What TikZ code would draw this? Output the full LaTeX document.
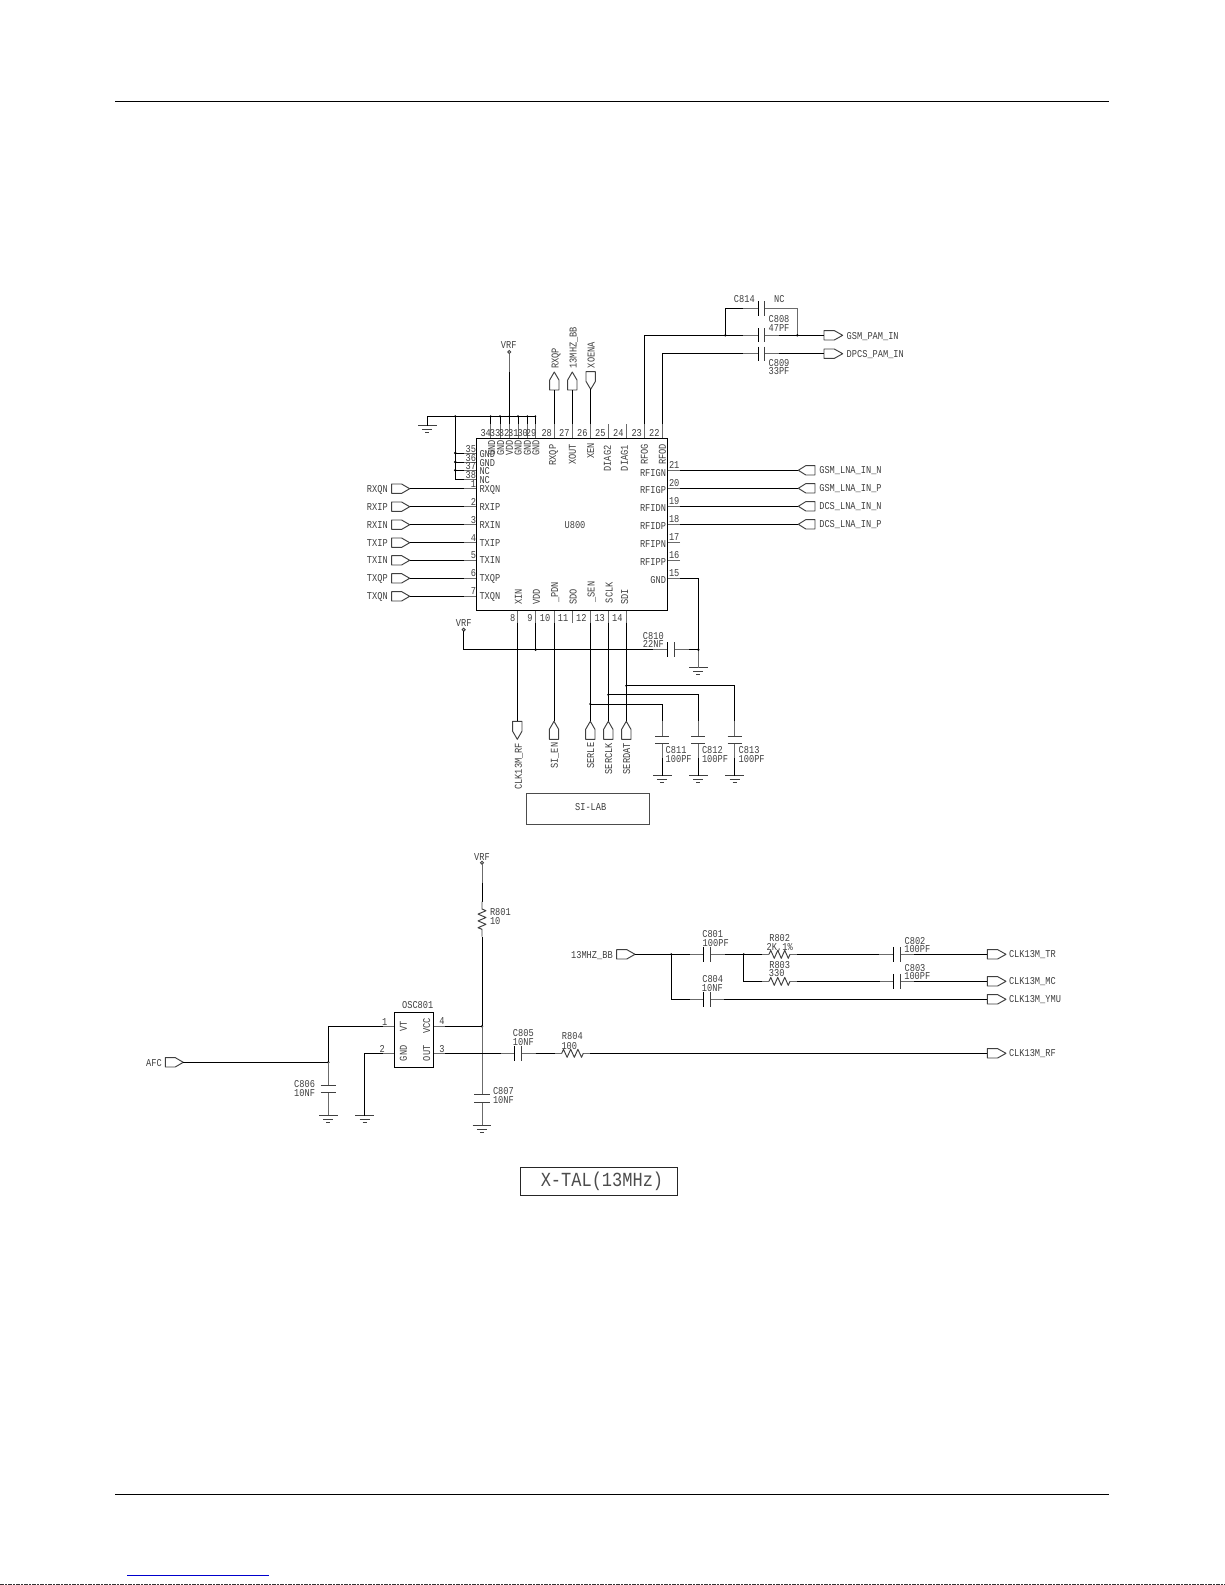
\documentclass[tikz,border=0pt]{standalone}
\usepackage{fontspec}
\setmainfont{Liberation Mono}
\newfontfamily\schfont[FakeStretch=0.825]{Liberation Mono}
\newfontfamily\bigfont[FakeStretch=0.85]{Liberation Mono}
\usetikzlibrary{calc}
\tikzset{
  wire/.style={line width=.95pt,black},
  lead/.style={line width=.95pt,black!58},
  frame/.style={line width=.95pt,black!75},
  lbl/.style={inner sep=0pt,outer sep=0pt,text height=7pt,text depth=0pt,text=black!75,font=\schfont\fontsize{10.5}{10.5}\selectfont},
}
\newcounter{tc}
\newcommand\T[4][]{\stepcounter{tc}\node[lbl,#1] (t\arabic{tc}) at (#2,#3) {#4};}
% horizontal off-page port: base x, tip x, y
\newcommand\PortH[4]{%
  \coordinate (#1-b) at (#2,#4);\coordinate (#1-t) at (#3,#4);
  \pgfmathsetmacro\sx{#2+.55*(#3-#2)}%
  \draw[frame,line join=round] (#2,#4-4.7) -- (\sx,#4-4.7) -- (#3,#4) -- (\sx,#4+4.7) -- (#2,#4+4.7) -- cycle;}
% vertical off-page port: x, base y, tip y
\newcommand\PortV[4]{%
  \coordinate (#1-b) at (#2,#3);\coordinate (#1-t) at (#2,#4);
  \pgfmathsetmacro\sy{#3+.55*(#4-#3)}%
  \draw[frame,line join=round] (#2-4.7,#3) -- (#2-4.7,\sy) -- (#2,#4) -- (#2+4.7,\sy) -- (#2+4.7,#3) -- cycle;}
% ground symbol
\newcommand\Gnd[3]{%
  \coordinate (#1) at (#2,#3);
  \draw[frame] ($(#1)+(-9.3,0)$) -- ($(#1)+(9.3,0)$);
  \draw[frame] ($(#1)+(-5,3.3)$) -- ($(#1)+(5,3.3)$);
  \draw[frame] ($(#1)+(-2,6.8)$) -- ($(#1)+(2,6.8)$);}
% horizontal-run capacitor: name, plate x1, plate x2, y, half, lead L, lead R
\newcommand\CapH[7]{%
  \coordinate (#1-l) at (#2-#6,#4);\coordinate (#1-r) at (#3+#7,#4);
  \draw[lead] (#1-l) -- (#2,#4);\draw[lead] (#3,#4) -- (#1-r);
  \draw[wire] (#2,#4-#5) -- (#2,#4+#5);\draw[frame] (#3,#4-#5) -- (#3,#4+#5);}
% vertical-run capacitor: name, x, plate y1, plate y2, half, lead T, lead B
\newcommand\CapV[7]{%
  \coordinate (#1-t) at (#2,#3-#6);\coordinate (#1-b) at (#2,#4+#7);
  \draw[lead] (#1-t) -- (#2,#3);\draw[lead] (#2,#4) -- (#1-b);
  \draw[frame] (#2-#5,#3) -- (#2+#5,#3);\draw[frame] (#2-#5,#4) -- (#2+#5,#4);}
% horizontal resistor: name, zig x1, zig x2, y
\newcommand\ResH[4]{%
  \coordinate (#1-l) at (#2-7,#4);\coordinate (#1-r) at (#3+7,#4);
  \pgfmathsetmacro\st{(#3-#2)/6}%
  \draw[lead] (#1-l) -- (#2,#4);\draw[lead] (#3,#4) -- (#1-r);
  \draw[frame,line join=round] (#2,#4) -- ++(\st/2,-4) -- ++(\st,8) -- ++(\st,-8) -- ++(\st,8) -- ++(\st,-8) -- ++(\st,8) -- (#3,#4);}
\begin{document}
\begin{tikzpicture}[x=1pt,y=-1pt]
\useasboundingbox (0,0) rectangle (1225,1585);
\fill[white] (0,0) rectangle (1225,1585);
% page furniture
\coordinate (topL) at (115,101.3);\coordinate (topR) at (1109,101.3);
\draw[line width=1.1pt] (topL) -- (topR);
\coordinate (botL) at (115,1494.3);\coordinate (botR) at (1109,1494.3);
\draw[line width=1.1pt] (botL) -- (botR);
\coordinate (linkL) at (127,1575.3);\coordinate (linkR) at (269,1575.3);
\draw[line width=1pt,color={rgb,255:red,0;green,0;blue,205}] (linkL) -- (linkR);
\coordinate (edgeL) at (0,1584.4);\coordinate (edgeR) at (1225,1584.4);
\draw[line width=1pt,dash pattern=on 4pt off 1pt on 2pt off 1pt,black!80] (edgeL) -- (edgeR);

% ===== U800 =====
\node[draw=black,line width=.95pt,inner sep=0pt,minimum width=191pt,minimum height=172pt] (u800) at (572.2,524.3) {};
\T{575}{525}{U800}

% left pins with ports
\foreach \n/\s/\y in {1/RXQN/488.7,2/RXIP/506.7,3/RXIN/524.7,4/TXIP/542.7,5/TXIN/560.3,6/TXQP/578.3,7/TXQN/596.3}{
  \coordinate (p\n) at (464,\y);
  \PortH{P\n}{391.7}{409.7}{\y}
  \draw[wire] (P\n-t) -- (p\n);
  \draw[lead] (p\n) -- (p\n -| u800.west);
  \T[anchor=east]{387.7}{\y}{\s}
  \T[anchor=west]{479.5}{\y}{\s}
  \T[anchor=east]{476}{\y-5}{\n}
}
% left pins tied to ground
\coordinate (busL) at (427.3,416.3);\coordinate (busR) at (535.3,416.3);
\coordinate (tie) at (455.3,416.3);
\draw[wire] (busL) -- (busR);
\Gnd{gTop}{427.3}{425.7}
\draw[wire] (busL) -- (gTop);
\foreach \n/\s/\y in {35/GND/453,36/GND/462,37/NC/470.3,38/NC/479.3}{
  \coordinate (p\n) at (464,\y);
  \draw[wire] (p\n -| tie) -- (p\n);
  \draw[lead] (p\n) -- (p\n -| u800.west);
  \T[anchor=west]{479.5}{\y+.7}{\s}
  \T[anchor=east]{476}{\y-4.5}{\n}
}
\draw[wire] (tie) -- (p38 -| tie);
\foreach \n in {35,36,37}{\fill (p\n -| tie) circle (1.4);}
\fill (tie) circle (1.2);

% top pins
\foreach \n/\x/\nx in {34/490.7/485.7,33/500/495,32/509.3/504,31/518/513.3,30/527.3/522.7,29/535.3/531,28/554.3/546.7,27/572.3/564.3,26/590.7/582.3,25/608.3/600.3,24/626/618.3,23/644.3/636.7,22/662.3/654.3}{
  \coordinate (p\n) at (\x,424);
  \draw[lead] (p\n) -- (p\n |- u800.north);
  \T{\nx}{433}{\n}
}
\foreach \n in {34,33,32,31,30,29}{\draw[wire] (p\n |- busL) -- (p\n);\fill (p\n |- busL) circle (1.1);}
\foreach \x/\s in {491.7/GND,500.7/GND,509.3/VDD,518/GND,527.3/GND,535.8/GND}{\T[rotate=90]{\x}{447.7}{\s}}
\T[rotate=90]{552.7}{455}{RXQP}
\T[rotate=90]{572.3}{454.5}{XOUT}
\T[rotate=90]{590.7}{451}{XEN}
\T[rotate=90]{607.3}{458.5}{DIAG2}
\T[rotate=90]{624.3}{458}{DIAG1}
\T[rotate=90]{644.3}{454.5}{RFOG}
\T[rotate=90]{662.3}{454.5}{RFOD}

% top ports
\PortV{P28}{554.3}{390}{372}
\PortV{P27}{572.3}{390}{372}
\PortV{P26}{590.7}{371.7}{389.3}
\draw[wire] (P28-b) -- (p28);
\draw[wire] (P27-b) -- (p27);
\draw[wire] (P26-t) -- (p26);
\T[rotate=90]{555}{358.3}{RXQP}
\T[rotate=90]{573}{347.7}{13MHZ\_BB}
\T[rotate=90]{591}{355}{XOENA}
% VRF top
\coordinate (vrf1) at (509.3,352);\coordinate (vrf1a) at (509.3,372);
\draw[frame] (vrf1) circle (1.5);
\draw[lead] (vrf1) ++(0,1.5) -- (vrf1a);
\draw[wire] (vrf1a) -- (p32);
\T{508.7}{345}{VRF}

% RF output caps
\CapH{C814}{758}{764.7}{308.3}{7.2}{15}{15}
\CapH{C808}{758}{764.7}{335.3}{7}{15}{14.3}
\CapH{C809}{758}{764.7}{353.7}{7.2}{15}{14.3}
\coordinate (j1) at (725.3,335.3);\coordinate (j2) at (797.3,335.3);
\PortH{Pgsm}{824}{842.7}{335.3}
\PortH{Pdcs}{824}{842.7}{353.7}
\draw[wire] (p23) |- (C808-l);
\draw[wire] (p22) |- (C809-l);
\draw[wire] (C808-r) -- (Pgsm-b);
\draw[wire] (C809-r) -- (Pdcs-b);
\draw[wire] (j1) |- (C814-l);
\draw[lead] (C814-r) -| (j2);
\fill (j1) circle (1.3);\fill (j2) circle (1.3);
\T{744.3}{299.3}{C814}
\T{779.3}{299.3}{NC}
\T{779}{319.3}{C808}
\T{779}{327.7}{47PF}
\T{779}{363.3}{C809}
\T{779}{371.3}{33PF}
\T[anchor=west]{846.7}{336}{GSM\_PAM\_IN}
\T[anchor=west]{846.7}{354.3}{DPCS\_PAM\_IN}

% right pins
\foreach \n/\s/\y/\d in {21/RFIGN/470.3/2.7,20/RFIGP/488.3/2,19/RFIDN/506.3/2,18/RFIDP/524.3/2,17/RFIPN/542.3/1.7,16/RFIPP/560/2.3,15/GND/578.3/2}{
  \coordinate (r\n) at (680,\y);
  \draw[lead] (r\n) -- (r\n -| u800.east);
  \T[anchor=east]{666}{\y+\d}{\s}
  \T[anchor=west]{669}{\y-5}{\n}
}
\foreach \n/\s/\y in {21/GSM\_LNA\_IN\_N/470.3,20/GSM\_LNA\_IN\_P/488.3,19/DCS\_LNA\_IN\_N/506.3,18/DCS\_LNA\_IN\_P/524.3}{
  \PortH{P\n}{815}{798.3}{\y}
  \draw[wire] (r\n) -- (P\n-t);
  \T[anchor=west]{819.3}{\y}{\s}
}

% bottom pins
\foreach \n/\x/\nx in {8/517.3/512.7,9/535.7/530,10/554/545,11/572.3/563,12/590.3/581.3,13/608.3/599.7,14/626.3/617.3}{
  \coordinate (b\n) at (\x,622.7);
  \draw[lead] (b\n) -- (b\n |- u800.south);
  \T{\nx}{618.3}{\n}
}
\T[rotate=90]{518.3}{596.7}{XIN}
\T[rotate=90]{536.3}{597}{VDD}
\T[rotate=90]{554.7}{592.3}{\_PDN}
\T[rotate=90]{573}{597}{SDO}
\T[rotate=90]{591}{592}{\_SEN}
\T[rotate=90]{609}{592.7}{SCLK}
\T[rotate=90]{624.7}{596.7}{SDI}

% VRF / C810 / pin 15
\coordinate (vrf2) at (463.7,629.7);
\coordinate (vrf2b) at (463.7,649.7);
\coordinate (j9) at (535.7,649.7);
\coordinate (j15) at (698.3,649.7);
\draw[frame] (vrf2) circle (1.5);
\T{463.7}{623}{VRF}
\CapH{C810}{667.7}{674.3}{649.7}{7.5}{15}{14.7}
\Gnd{g15}{698.3}{667.7}
\draw[wire] (vrf2) ++(0,1.5) |- (C810-l);
\draw[wire] (C810-r) -- (j15);
\draw[wire] (r15) -| (j15);
\draw[lead] (j15) -- (g15);
\draw[wire] (b9) -- (j9);
\fill (j9) circle (1.3);\fill (j15) circle (1.3);
\T{653.3}{636}{C810}
\T{653.3}{644.3}{22NF}

% bottom ports
\PortV{P8}{517.3}{721.3}{739.3}
\PortV{P10}{554}{739.3}{721.3}
\PortV{P12}{590.3}{739.3}{721.3}
\PortV{P13}{608.3}{739.3}{721.3}
\PortV{P14}{626.3}{739.3}{721.3}
\draw[wire] (b8) -- (P8-b);
\foreach \n in {10,12,13,14}{\draw[wire] (b\n) -- (P\n-t);}
\T[rotate=90]{518.3}{766.3}{CLK13M\_RF}
\T[rotate=90]{554.3}{755.7}{SI\_EN}
\T[rotate=90]{590.7}{755.7}{SERLE}
\T[rotate=90]{608.7}{758.7}{SERCLK}
\T[rotate=90]{626.7}{758.7}{SERDAT}

% serial decoupling caps
\foreach \nm/\sx/\x/\y/\lx/\bx in {C811/590.3/662.3/704/665.7/b12,C812/608.3/698.3/694.7/702/b13,C813/626.3/734.7/685.7/738.7/b14}{
  \CapV{\nm}{\x}{736}{743.3}{7}{15}{15}
  \coordinate (\nm-j) at (\sx,\y);
  \draw[wire] (\nm-j) -| (\nm-t);
  \fill (\nm-j) circle (1.2);
  \Gnd{\nm-g}{\x}{775.7}
  \draw[wire] (\nm-b) -- (\nm-g);
  \T[anchor=west]{\lx}{750}{\nm}
  \T[anchor=west]{\lx}{758.7}{100PF}
}
% SI-LAB
\node[draw=black!70,line width=.95pt,minimum width=122.6pt,minimum height=31.4pt,inner sep=0pt] (silab) at (588,809) {};
\T{590.7}{807.3}{SI-LAB}

% ===== oscillator =====
\node[draw=black,line width=.95pt,minimum width=39pt,minimum height=55.7pt,inner sep=0pt] (osc) at (414.2,1039.85) {};
\T{417.7}{1005}{OSC801}
\T[rotate=90]{403.3}{1026}{VT}
\T[rotate=90]{426.7}{1026}{VCC}
\T[rotate=90]{403.3}{1053.3}{GND}
\T[rotate=90]{426.7}{1053.3}{OUT}
\coordinate (o1) at (383.3,1026.3);\coordinate (o2) at (383.3,1053.3);
\coordinate (o4) at (445.3,1026.3);\coordinate (o3) at (445.3,1053.3);
\foreach \n in {1,2}{\draw[lead] (o\n) -- (o\n -| osc.west);}
\foreach \n in {3,4}{\draw[lead] (o\n) -- (o\n -| osc.east);}
\T{384.7}{1022}{1}
\T{382.3}{1049}{2}
\T{442}{1021}{4}
\T{442}{1049}{3}

% VRF lower + R801 + C807
\coordinate (vrf3) at (482,862.7);\coordinate (vrf3a) at (482,882.7);
\coordinate (r801t) at (482,901.7);\coordinate (r801b) at (482,936.7);
\coordinate (j4) at (482,1026.3);
\draw[frame] (vrf3) circle (1.5);
\T{482}{856.5}{VRF}
\draw[lead] (vrf3) ++(0,1.5) -- (vrf3a);
\draw[wire] (vrf3a) -- (r801t);
\draw[frame,line join=round] (r801t) -- (482,909) -- ++(4,1.7) -- ++(-8,3.4) -- ++(8,3.4) -- ++(-8,3.4) -- ++(8,3.4) -- ++(-8,3.4) -- (482,929.3) -- (r801b);
\draw[wire] (r801b) -- (j4);
\draw[wire] (o4) -- (j4);
\fill (j4) circle (1.3);
\T[anchor=west]{490}{911.7}{R801}
\T[anchor=west]{490}{921}{10}
\CapV{C807}{482}{1094.3}{1102.3}{7.8}{68}{23.4}
\Gnd{g807}{482}{1125.7}
\T[anchor=west]{493}{1090.5}{C807}
\T[anchor=west]{493}{1099.5}{10NF}

% AFC + C806
\PortH{Pafc}{165.3}{183.3}{1062.3}
\T{154}{1063}{AFC}
\coordinate (jafc) at (328.3,1062.3);
\draw[wire] (Pafc-t) -- (jafc);
\draw[wire] (o1) -| (jafc);
\fill (jafc) circle (1.3);
\CapV{C806}{328.3}{1085.7}{1092.3}{7.7}{23.4}{23.4}
\Gnd{g806}{328.3}{1115.7}
\T[anchor=east]{315}{1084.3}{C806}
\T[anchor=east]{315}{1093}{10NF}
% pin 2 ground
\Gnd{g2}{364.7}{1115.7}
\draw[wire] (o2) -| (g2);

% output chain
\CapH{C805}{514.3}{521.7}{1053.3}{7.4}{13.6}{14}
\ResH{R804}{561.7}{583.3}{1053.3}
\PortH{Prf}{987.3}{1006}{1053.3}
\draw[wire] (o3) -- (C805-l);
\draw[wire] (C805-r) -- (R804-l);
\draw[wire] (R804-r) -- (Prf-b);
\T{523.3}{1033}{C805}
\T{523.3}{1041.7}{10NF}
\T{572.3}{1036.3}{R804}
\T{569.3}{1045.7}{100}
\T[anchor=west]{1009}{1053.3}{CLK13M\_RF}

% 13 MHz distribution
\PortH{Pbb}{616.7}{635}{954.3}
\T[anchor=east]{612.7}{954.5}{13MHZ\_BB}
\coordinate (jb1) at (671.3,954.3);\coordinate (jb2) at (743.7,954.3);
\CapH{C801}{703.3}{710.3}{954.3}{7.5}{13.3}{14.7}
\ResH{R802}{769}{790}{954.3}
\CapH{C802}{893.7}{900.3}{954.3}{7.5}{14.4}{14}
\PortH{Ptr}{987.3}{1006}{954.3}
\draw[wire] (Pbb-t) -- (C801-l);
\draw[wire] (C801-r) -- (R802-l);
\draw[wire] (R802-r) -- (C802-l);
\draw[wire] (C802-r) -- (Ptr-b);
\ResH{R803}{769}{790}{981.3}
\CapH{C803}{893.7}{900.3}{981.3}{7.5}{14}{14}
\PortH{Pmc}{987.3}{1006}{981.3}
\draw[wire] (jb2) |- (R803-l);
\draw[wire] (R803-r) -- (C803-l);
\draw[wire] (C803-r) -- (Pmc-b);
\CapH{C804}{703.3}{710.3}{999.3}{7.5}{13.3}{14}
\PortH{Pymu}{987.3}{1006}{999.3}
\draw[wire] (jb1) |- (C804-l);
\draw[wire] (C804-r) -- (Pymu-b);
\fill (jb1) circle (1.2);\fill (jb2) circle (1.2);
\T{712.7}{933.7}{C801}
\T{715.7}{943.3}{100PF}
\T{779.7}{937.7}{R802}
\T{779.7}{946.7}{2K,1\%}
\T{779.7}{964.7}{R803}
\T{776.7}{973.3}{330}
\T{915}{940.7}{C802}
\T{917.3}{949.3}{100PF}
\T{915}{968.3}{C803}
\T{917.3}{976.3}{100PF}
\T{712.7}{978.7}{C804}
\T{712.3}{987.7}{10NF}
\T[anchor=west]{1009}{954.3}{CLK13M\_TR}
\T[anchor=west]{1009}{981.3}{CLK13M\_MC}
\T[anchor=west]{1009}{999.3}{CLK13M\_YMU}

% X-TAL box
\node[draw=black!85,line width=.95pt,minimum width=157.7pt,minimum height=27.7pt,inner sep=0pt] (xtal) at (598.85,1181.15) {};
\node[inner sep=0pt,text=black!70,font=\bigfont\fontsize{20}{20}\selectfont] (xtaltxt) at (602,1181.5) {X-TAL(13MHz)};
\end{tikzpicture}
\end{document}
